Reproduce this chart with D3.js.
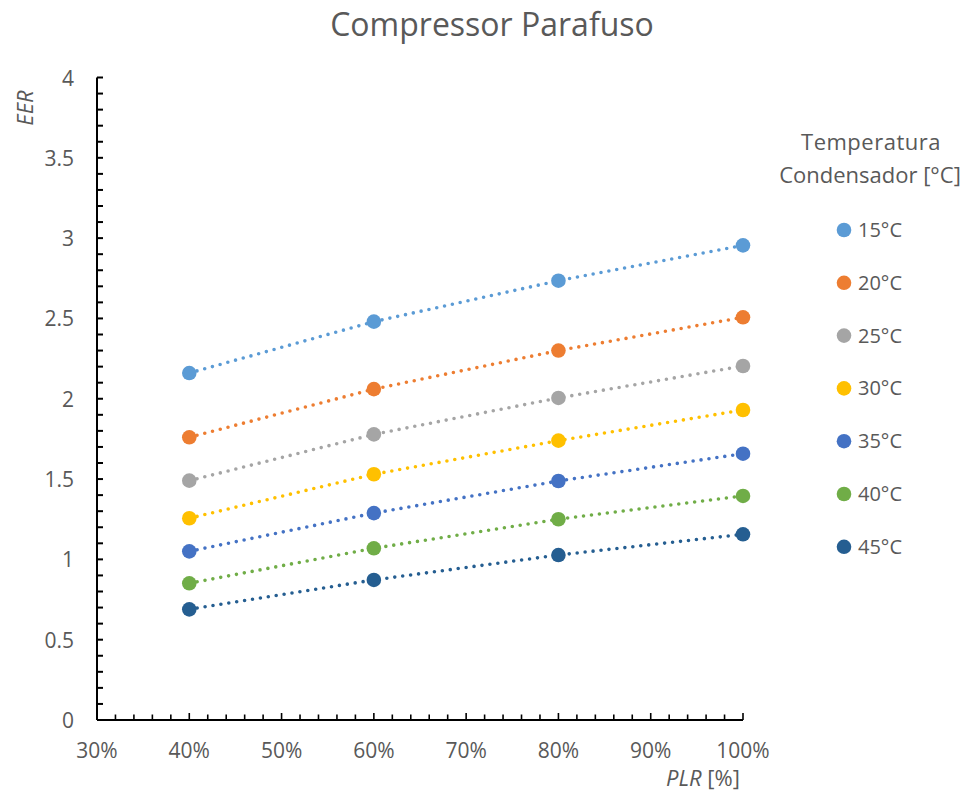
<!DOCTYPE html>
<html>
<head>
<meta charset="utf-8">
<script src="https://cdn.jsdelivr.net/npm/d3@7"></script>
<style>
  html, body { margin: 0; padding: 0; background: #fff; }
  svg { display: block; font-family: "Open Sans", "Noto Sans", sans-serif; }
</style>
</head>
<body>
<svg id="chart" width="970" height="796"></svg>
<script>
// Part-load ratio (fraction) on the x axis
const plr = [0.4, 0.6, 0.8, 1.0];

// Condenser temperature series and their EER values at each PLR
const seriesNames = ["15°C", "20°C", "25°C", "30°C", "35°C", "40°C", "45°C"];
const eer15 = [2.16, 2.48, 2.735, 2.955];
const eer20 = [1.76, 2.06, 2.30, 2.507];
const eer25 = [1.49, 1.778, 2.005, 2.204];
const eer30 = [1.256, 1.53, 1.739, 1.93];
const eer35 = [1.05, 1.288, 1.488, 1.658];
const eer40 = [0.851, 1.069, 1.25, 1.395];
const eer45 = [0.689, 0.872, 1.027, 1.156];
const seriesColors = ["#5B9BD5", "#ED7D31", "#A5A5A5", "#FFC000", "#4472C4", "#70AD47", "#255E91"];

const xTicks = [0.3, 0.4, 0.5, 0.6, 0.7, 0.8, 0.9, 1.0];
const yTicks = [0, 0.5, 1, 1.5, 2, 2.5, 3, 3.5, 4];

const allValues = [eer15, eer20, eer25, eer30, eer35, eer40, eer45];
const series = seriesNames.map((name, i) => ({
  name, color: seriesColors[i],
  points: plr.map((p, j) => ({ x: p, y: allValues[i][j] }))
}));

const svg = d3.select("#chart");
const textColor = "#595959";

const x = d3.scaleLinear().domain([0.3, 1.0]).range([97, 743]);
const y = d3.scaleLinear().domain([0, 4]).range([720, 77.5]);

// Title
svg.append("text")
  .attr("x", 492).attr("y", 36)
  .attr("text-anchor", "middle")
  .attr("font-size", 32)
  .attr("fill", textColor)
  .text("Compressor Parafuso");

// Minor tick positions
const xMinor = d3.range(0.3, 1.0001, 0.02);
const yMinor = d3.range(0, 4.0001, 0.1);

const axisG = svg.append("g");
// Y axis line + inward ticks
axisG.append("line")
  .attr("x1", x(0.3)).attr("x2", x(0.3))
  .attr("y1", y(0)).attr("y2", y(4))
  .attr("stroke", "#000").attr("stroke-width", 2);
axisG.selectAll(".ymt").data(yMinor).join("line")
  .attr("x1", x(0.3)).attr("x2", x(0.3) + 6)
  .attr("y1", d => y(d)).attr("y2", d => y(d))
  .attr("stroke", "#000").attr("stroke-width", 2);
// X axis line + inward ticks
axisG.append("line")
  .attr("x1", x(0.3)).attr("x2", x(1.0))
  .attr("y1", y(0)).attr("y2", y(0))
  .attr("stroke", "#000").attr("stroke-width", 2);
axisG.selectAll(".xmt").data(xMinor).join("line")
  .attr("x1", d => x(d)).attr("x2", d => x(d))
  .attr("y1", y(0)).attr("y2", d => y(0) - (Math.abs(Math.round(d * 10) - d * 10) < 1e-6 ? 7 : 5.5))
  .attr("stroke", "#000").attr("stroke-width", 1.6);

// Tick labels
svg.append("g").selectAll("text").data(yTicks).join("text")
  .attr("x", 74).attr("y", d => y(d) + 8)
  .attr("text-anchor", "end")
  .attr("font-size", 21)
  .attr("fill", textColor)
  .text(d => d3.format("")(d));
svg.append("g").selectAll("text").data(xTicks).join("text")
  .attr("x", d => x(d)).attr("y", 758)
  .attr("text-anchor", "middle")
  .attr("font-size", 21)
  .attr("fill", textColor)
  .text(d => d3.format(".0%")(d));

// Axis titles
svg.append("text")
  .attr("transform", `translate(33,108) rotate(-90)`)
  .attr("text-anchor", "middle")
  .attr("font-size", 22)
  .attr("font-style", "italic")
  .attr("fill", textColor)
  .text("EER");
const xt = svg.append("text")
  .attr("x", 703).attr("y", 786)
  .attr("text-anchor", "middle")
  .attr("font-size", 22)
  .attr("fill", textColor);
xt.append("tspan").attr("font-style", "italic").text("PLR");
xt.append("tspan").text(" [%]");

// Series: dotted lines and markers
const line = d3.line().x(d => x(d.x)).y(d => y(d.y));
const sg = svg.append("g").selectAll("g").data(series).join("g");
sg.append("path")
  .attr("d", d => line(d.points))
  .attr("fill", "none")
  .attr("stroke", d => d.color)
  .attr("stroke-width", 3.6)
  .attr("stroke-linecap", "round")
  .attr("stroke-dasharray", "0 8");
sg.selectAll("circle").data(d => d.points.map(p => ({ ...p, color: d.color }))).join("circle")
  .attr("cx", d => x(d.x)).attr("cy", d => y(d.y))
  .attr("r", 7.3)
  .attr("fill", d => d.color);

// Legend
const lg = svg.append("g");
lg.append("text").attr("x", 871).attr("y", 150)
  .attr("text-anchor", "middle").attr("font-size", 22).attr("fill", textColor)
  .attr("letter-spacing", 0.5)
  .text("Temperatura");
lg.append("text").attr("x", 870).attr("y", 183)
  .attr("text-anchor", "middle").attr("font-size", 22).attr("fill", textColor)
  .text("Condensador [°C]");
const items = lg.selectAll(".item").data(series).join("g")
  .attr("transform", (d, i) => `translate(844,${230 + i * 52.8})`);
items.append("circle").attr("r", 7.3).attr("fill", d => d.color);
items.append("text").attr("x", 14).attr("y", 7)
  .attr("font-size", 20).attr("fill", textColor)
  .text(d => d.name);
</script>
</body>
</html>
